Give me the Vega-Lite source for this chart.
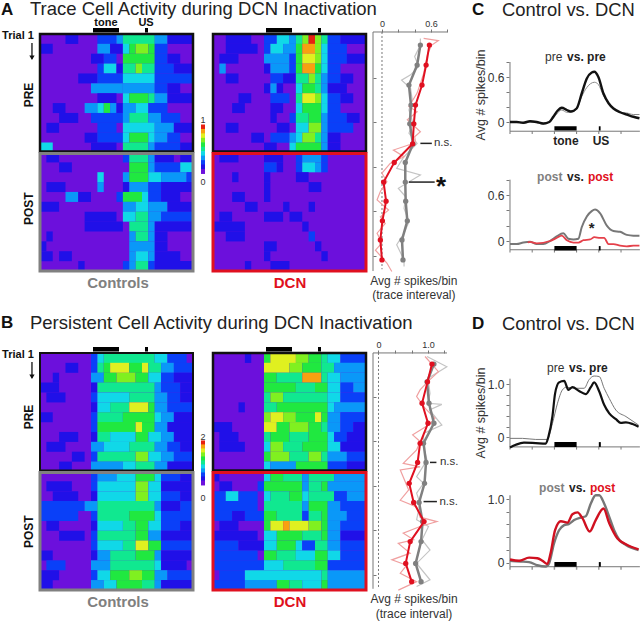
{"$schema":"https://vega.github.io/schema/vega-lite/v6.json","padding":0,"columns":4,"spacing":0,"bounds":"flush","background":"white",
"config":{"view":{"stroke":null},"text":{"font":"Liberation Sans"},"axis":{"labelFont":"Liberation Sans","grid":false,"domain":false,"title":null,"tickColor":"#777","labelColor":"#333"}},
"datasets":{
"a1":[{"r":1,"c":4,"d":6,"v":1},{"r":1,"c":9,"d":12,"v":2},{"r":1,"c":12,"d":13,"v":3},{"r":1,"c":13,"d":18,"v":5},{"r":1,"c":18,"d":20,"v":3},{"r":1,"c":20,"d":24,"v":1},
{"r":2,"c":0,"d":2,"v":1},{"r":2,"c":9,"d":11,"v":3},{"r":2,"c":11,"d":13,"v":1},{"r":2,"c":13,"d":14,"v":4},{"r":2,"c":14,"d":15,"v":6},{"r":2,"c":15,"d":17,"v":7},{"r":2,"c":17,"d":18,"v":6},{"r":2,"c":18,"d":20,"v":2},
{"r":3,"c":8,"d":10,"v":1},{"r":3,"c":10,"d":12,"v":2},{"r":3,"c":13,"d":18,"v":6},{"r":3,"c":18,"d":20,"v":2},{"r":3,"c":20,"d":22,"v":1},
{"r":4,"c":9,"d":10,"v":2},{"r":4,"c":10,"d":12,"v":4},{"r":4,"c":12,"d":13,"v":1},{"r":4,"c":13,"d":15,"v":5},{"r":4,"c":15,"d":16,"v":7},{"r":4,"c":16,"d":18,"v":5},{"r":4,"c":18,"d":21,"v":2},{"r":4,"c":21,"d":24,"v":1},
{"r":5,"c":6,"d":9,"v":1},{"r":5,"c":9,"d":13,"v":2},{"r":5,"c":13,"d":18,"v":4},{"r":5,"c":18,"d":24,"v":2},
{"r":6,"c":8,"d":13,"v":3},{"r":6,"c":13,"d":18,"v":3},{"r":6,"c":18,"d":20,"v":2},{"r":6,"c":20,"d":22,"v":1},
{"r":7,"c":9,"d":12,"v":1},{"r":7,"c":13,"d":14,"v":4},{"r":7,"c":14,"d":17,"v":6},{"r":7,"c":17,"d":18,"v":5},{"r":7,"c":18,"d":20,"v":3},{"r":7,"c":20,"d":24,"v":1},
{"r":8,"c":2,"d":4,"v":1},{"r":8,"c":7,"d":9,"v":3},{"r":8,"c":9,"d":10,"v":4},{"r":8,"c":10,"d":11,"v":6},{"r":8,"c":11,"d":12,"v":3},{"r":8,"c":12,"d":13,"v":1},{"r":8,"c":13,"d":15,"v":3},{"r":8,"c":15,"d":17,"v":4},{"r":8,"c":17,"d":20,"v":2},
{"r":9,"c":3,"d":6,"v":1},{"r":9,"c":8,"d":13,"v":2},{"r":9,"c":13,"d":14,"v":3},{"r":9,"c":14,"d":17,"v":5},{"r":9,"c":17,"d":19,"v":3},{"r":9,"c":19,"d":22,"v":2},
{"r":10,"c":1,"d":3,"v":1},{"r":10,"c":9,"d":12,"v":2},{"r":10,"c":13,"d":18,"v":4},{"r":10,"c":18,"d":21,"v":3},{"r":10,"c":21,"d":24,"v":1},
{"r":11,"c":7,"d":9,"v":1},{"r":11,"c":9,"d":13,"v":2},{"r":11,"c":13,"d":14,"v":4},{"r":11,"c":14,"d":17,"v":6},{"r":11,"c":17,"d":18,"v":4},{"r":11,"c":18,"d":20,"v":3},{"r":11,"c":20,"d":22,"v":2},
{"r":12,"c":0,"d":2,"v":4},{"r":12,"c":8,"d":12,"v":1},{"r":12,"c":13,"d":17,"v":5},{"r":12,"c":17,"d":18,"v":3},{"r":12,"c":18,"d":22,"v":2},{"r":12,"c":22,"d":24,"v":1},
{"r":13,"c":1,"d":3,"v":1},{"r":13,"c":13,"d":14,"v":2},{"r":13,"c":14,"d":17,"v":5},{"r":13,"c":17,"d":18,"v":3},{"r":13,"c":18,"d":21,"v":1},{"r":13,"c":22,"d":24,"v":1},
{"r":14,"c":3,"d":5,"v":1},{"r":14,"c":14,"d":17,"v":6},{"r":14,"c":17,"d":18,"v":3},{"r":14,"c":18,"d":22,"v":2},{"r":14,"c":22,"d":24,"v":4},
{"r":15,"c":9,"d":10,"v":4},{"r":15,"c":13,"d":14,"v":3},{"r":15,"c":14,"d":17,"v":6},{"r":15,"c":17,"d":19,"v":4},{"r":15,"c":19,"d":23,"v":3},{"r":15,"c":23,"d":24,"v":2},
{"r":16,"c":1,"d":4,"v":1},{"r":16,"c":9,"d":10,"v":3},{"r":16,"c":13,"d":14,"v":1},{"r":16,"c":14,"d":17,"v":3},{"r":16,"c":17,"d":19,"v":2},{"r":16,"c":19,"d":24,"v":1},
{"r":17,"c":4,"d":6,"v":3},{"r":17,"c":6,"d":8,"v":1},{"r":17,"c":12,"d":13,"v":2},{"r":17,"c":13,"d":16,"v":6},{"r":17,"c":16,"d":17,"v":4},{"r":17,"c":17,"d":19,"v":2},{"r":17,"c":19,"d":22,"v":1},
{"r":18,"c":0,"d":3,"v":1},{"r":18,"c":13,"d":15,"v":3},{"r":18,"c":15,"d":17,"v":4},{"r":18,"c":17,"d":20,"v":3},{"r":18,"c":20,"d":24,"v":1},
{"r":19,"c":7,"d":12,"v":1},{"r":19,"c":13,"d":15,"v":4},{"r":19,"c":15,"d":17,"v":5},{"r":19,"c":17,"d":19,"v":3},{"r":19,"c":19,"d":24,"v":2},
{"r":20,"c":7,"d":13,"v":1},{"r":20,"c":14,"d":17,"v":5},{"r":20,"c":17,"d":18,"v":3},{"r":20,"c":18,"d":24,"v":1},
{"r":21,"c":1,"d":2,"v":1},{"r":21,"c":14,"d":15,"v":3},{"r":21,"c":15,"d":17,"v":5},{"r":21,"c":17,"d":18,"v":3},{"r":21,"c":18,"d":20,"v":1},
{"r":22,"c":0,"d":1,"v":1},{"r":22,"c":14,"d":18,"v":3},{"r":22,"c":18,"d":20,"v":1},
{"r":23,"c":0,"d":2,"v":1},{"r":23,"c":3,"d":5,"v":1},{"r":23,"c":14,"d":15,"v":3},{"r":23,"c":15,"d":17,"v":4},{"r":23,"c":17,"d":18,"v":3},{"r":23,"c":18,"d":22,"v":1},
{"r":24,"c":6,"d":7,"v":1},{"r":24,"c":13,"d":14,"v":2},{"r":24,"c":14,"d":15,"v":3},{"r":24,"c":15,"d":17,"v":5},{"r":24,"c":17,"d":18,"v":2},{"r":24,"c":18,"d":24,"v":1}],
"a2":[{"r":1,"c":2,"d":6,"v":1},{"r":1,"c":8,"d":10,"v":2},{"r":1,"c":10,"d":12,"v":4},{"r":1,"c":12,"d":13,"v":3},{"r":1,"c":13,"d":14,"v":5},{"r":1,"c":14,"d":15,"v":7},{"r":1,"c":15,"d":16,"v":10},{"r":1,"c":16,"d":17,"v":7},{"r":1,"c":17,"d":18,"v":5},{"r":1,"c":18,"d":20,"v":2},{"r":1,"c":20,"d":24,"v":1},
{"r":2,"c":2,"d":7,"v":1},{"r":2,"c":8,"d":9,"v":2},{"r":2,"c":9,"d":11,"v":4},{"r":2,"c":11,"d":13,"v":3},{"r":2,"c":13,"d":14,"v":6},{"r":2,"c":14,"d":16,"v":9},{"r":2,"c":16,"d":17,"v":7},{"r":2,"c":17,"d":18,"v":4},{"r":2,"c":18,"d":21,"v":2},
{"r":3,"c":1,"d":4,"v":1},{"r":3,"c":8,"d":12,"v":3},{"r":3,"c":12,"d":13,"v":2},{"r":3,"c":13,"d":14,"v":6},{"r":3,"c":14,"d":16,"v":8},{"r":3,"c":16,"d":17,"v":7},{"r":3,"c":17,"d":18,"v":4},{"r":3,"c":18,"d":21,"v":2},{"r":3,"c":21,"d":24,"v":1},
{"r":4,"c":1,"d":2,"v":3},{"r":4,"c":8,"d":9,"v":1},{"r":4,"c":9,"d":12,"v":3},{"r":4,"c":12,"d":13,"v":2},{"r":4,"c":13,"d":14,"v":6},{"r":4,"c":14,"d":16,"v":9},{"r":4,"c":16,"d":17,"v":6},{"r":4,"c":17,"d":18,"v":4},{"r":4,"c":18,"d":20,"v":2},
{"r":5,"c":2,"d":4,"v":1},{"r":5,"c":9,"d":11,"v":2},{"r":5,"c":11,"d":13,"v":1},{"r":5,"c":13,"d":15,"v":5},{"r":5,"c":15,"d":16,"v":7},{"r":5,"c":16,"d":17,"v":5},{"r":5,"c":17,"d":18,"v":3},{"r":5,"c":18,"d":20,"v":2},{"r":5,"c":20,"d":22,"v":1},
{"r":6,"c":8,"d":9,"v":1},{"r":6,"c":9,"d":10,"v":3},{"r":6,"c":10,"d":11,"v":1},{"r":6,"c":13,"d":14,"v":4},{"r":6,"c":14,"d":16,"v":6},{"r":6,"c":16,"d":17,"v":5},{"r":6,"c":17,"d":18,"v":3},{"r":6,"c":18,"d":21,"v":1},
{"r":7,"c":4,"d":6,"v":1},{"r":7,"c":9,"d":12,"v":2},{"r":7,"c":13,"d":14,"v":5},{"r":7,"c":14,"d":16,"v":8},{"r":7,"c":16,"d":17,"v":7},{"r":7,"c":17,"d":18,"v":4},{"r":7,"c":18,"d":20,"v":2},{"r":7,"c":20,"d":22,"v":1},
{"r":8,"c":3,"d":5,"v":1},{"r":8,"c":9,"d":11,"v":1},{"r":8,"c":13,"d":14,"v":4},{"r":8,"c":14,"d":17,"v":6},{"r":8,"c":17,"d":18,"v":4},{"r":8,"c":18,"d":20,"v":2},
{"r":9,"c":9,"d":10,"v":1},{"r":9,"c":12,"d":13,"v":2},{"r":9,"c":13,"d":15,"v":5},{"r":9,"c":15,"d":17,"v":6},{"r":9,"c":17,"d":18,"v":3},{"r":9,"c":18,"d":21,"v":2},{"r":9,"c":21,"d":23,"v":1},
{"r":10,"c":2,"d":4,"v":1},{"r":10,"c":10,"d":12,"v":1},{"r":10,"c":13,"d":15,"v":4},{"r":10,"c":15,"d":17,"v":7},{"r":10,"c":17,"d":18,"v":3},{"r":10,"c":18,"d":22,"v":2},
{"r":11,"c":6,"d":8,"v":1},{"r":11,"c":9,"d":12,"v":2},{"r":11,"c":12,"d":13,"v":3},{"r":11,"c":13,"d":14,"v":4},{"r":11,"c":14,"d":16,"v":7},{"r":11,"c":16,"d":17,"v":5},{"r":11,"c":17,"d":18,"v":3},{"r":11,"c":18,"d":20,"v":1},
{"r":12,"c":8,"d":10,"v":1},{"r":12,"c":12,"d":13,"v":4},{"r":12,"c":13,"d":17,"v":6},{"r":12,"c":17,"d":18,"v":3},{"r":12,"c":18,"d":20,"v":1},
{"r":13,"c":1,"d":4,"v":1},{"r":13,"c":8,"d":11,"v":1},{"r":13,"c":13,"d":14,"v":2},{"r":13,"c":14,"d":17,"v":3},{"r":13,"c":17,"d":18,"v":2},
{"r":14,"c":8,"d":10,"v":2},{"r":14,"c":10,"d":11,"v":1},{"r":14,"c":13,"d":14,"v":2},{"r":14,"c":14,"d":16,"v":4},{"r":14,"c":16,"d":17,"v":3},{"r":14,"c":17,"d":18,"v":2},
{"r":15,"c":3,"d":4,"v":1},{"r":15,"c":8,"d":9,"v":1},{"r":15,"c":13,"d":15,"v":1},
{"r":16,"c":8,"d":9,"v":1},{"r":16,"c":15,"d":17,"v":1},
{"r":17,"c":3,"d":5,"v":1},{"r":17,"c":8,"d":9,"v":1},
{"r":18,"c":5,"d":7,"v":1},{"r":18,"c":11,"d":12,"v":1},{"r":18,"c":15,"d":16,"v":1},
{"r":19,"c":1,"d":3,"v":1},{"r":19,"c":8,"d":11,"v":1},{"r":19,"c":12,"d":14,"v":1},
{"r":20,"c":0,"d":5,"v":1},{"r":20,"c":14,"d":15,"v":1},
{"r":21,"c":2,"d":5,"v":1},{"r":21,"c":15,"d":16,"v":2},
{"r":22,"c":8,"d":10,"v":1},{"r":22,"c":16,"d":17,"v":1},
{"r":23,"c":8,"d":9,"v":1},{"r":23,"c":17,"d":18,"v":1},
{"r":24,"c":5,"d":6,"v":1},{"r":24,"c":9,"d":12,"v":1}],
"b1":[{"r":1,"c":8,"d":9,"v":2},{"r":1,"c":9,"d":10,"v":4},{"r":1,"c":10,"d":18,"v":5},{"r":1,"c":18,"d":20,"v":4},{"r":1,"c":20,"d":23,"v":2},
{"r":2,"c":4,"d":6,"v":1},{"r":2,"c":8,"d":9,"v":2},{"r":2,"c":9,"d":10,"v":5},{"r":2,"c":10,"d":11,"v":6},{"r":2,"c":11,"d":14,"v":8},{"r":2,"c":14,"d":16,"v":6},{"r":2,"c":16,"d":17,"v":8},{"r":2,"c":17,"d":19,"v":5},{"r":2,"c":19,"d":21,"v":3},{"r":2,"c":21,"d":24,"v":2},
{"r":3,"c":2,"d":3,"v":1},{"r":3,"c":8,"d":10,"v":3},{"r":3,"c":10,"d":12,"v":6},{"r":3,"c":12,"d":15,"v":7},{"r":3,"c":15,"d":17,"v":6},{"r":3,"c":17,"d":19,"v":4},{"r":3,"c":19,"d":21,"v":2},{"r":3,"c":21,"d":24,"v":1},
{"r":4,"c":0,"d":3,"v":1},{"r":4,"c":8,"d":9,"v":1},{"r":4,"c":9,"d":18,"v":5},{"r":4,"c":18,"d":19,"v":3},{"r":4,"c":19,"d":22,"v":2},{"r":4,"c":22,"d":24,"v":1},
{"r":5,"c":1,"d":4,"v":1},{"r":5,"c":8,"d":9,"v":2},{"r":5,"c":9,"d":14,"v":4},{"r":5,"c":14,"d":18,"v":5},{"r":5,"c":18,"d":20,"v":3},{"r":5,"c":20,"d":22,"v":2},{"r":5,"c":22,"d":24,"v":1},
{"r":6,"c":8,"d":9,"v":1},{"r":6,"c":9,"d":11,"v":4},{"r":6,"c":11,"d":14,"v":5},{"r":6,"c":14,"d":17,"v":8},{"r":6,"c":17,"d":18,"v":6},{"r":6,"c":18,"d":20,"v":3},{"r":6,"c":20,"d":24,"v":2},
{"r":7,"c":0,"d":2,"v":1},{"r":7,"c":8,"d":9,"v":2},{"r":7,"c":9,"d":13,"v":5},{"r":7,"c":13,"d":18,"v":6},{"r":7,"c":18,"d":19,"v":4},{"r":7,"c":19,"d":21,"v":3},{"r":7,"c":21,"d":24,"v":1},
{"r":8,"c":8,"d":9,"v":2},{"r":8,"c":9,"d":15,"v":6},{"r":8,"c":15,"d":16,"v":8},{"r":8,"c":16,"d":18,"v":6},{"r":8,"c":18,"d":20,"v":3},{"r":8,"c":20,"d":24,"v":1},
{"r":9,"c":3,"d":6,"v":1},{"r":9,"c":8,"d":9,"v":1},{"r":9,"c":9,"d":11,"v":5},{"r":9,"c":11,"d":15,"v":4},{"r":9,"c":15,"d":17,"v":6},{"r":9,"c":17,"d":19,"v":4},{"r":9,"c":19,"d":21,"v":3},{"r":9,"c":21,"d":24,"v":1},
{"r":10,"c":1,"d":4,"v":1},{"r":10,"c":8,"d":10,"v":3},{"r":10,"c":10,"d":14,"v":4},{"r":10,"c":14,"d":18,"v":5},{"r":10,"c":18,"d":20,"v":3},{"r":10,"c":20,"d":22,"v":2},{"r":10,"c":22,"d":24,"v":1},
{"r":11,"c":5,"d":7,"v":1},{"r":11,"c":8,"d":9,"v":2},{"r":11,"c":9,"d":15,"v":5},{"r":11,"c":15,"d":17,"v":7},{"r":11,"c":17,"d":19,"v":4},{"r":11,"c":19,"d":21,"v":3},{"r":11,"c":21,"d":24,"v":2},
{"r":12,"c":3,"d":5,"v":1},{"r":12,"c":8,"d":13,"v":3},{"r":12,"c":13,"d":15,"v":4},{"r":12,"c":15,"d":18,"v":5},{"r":12,"c":18,"d":20,"v":3},{"r":12,"c":20,"d":24,"v":1},
{"r":13,"c":8,"d":9,"v":2},{"r":13,"c":9,"d":12,"v":3},{"r":13,"c":12,"d":15,"v":4},{"r":13,"c":15,"d":18,"v":6},{"r":13,"c":18,"d":19,"v":4},{"r":13,"c":19,"d":22,"v":2},{"r":13,"c":22,"d":24,"v":1},
{"r":14,"c":1,"d":5,"v":1},{"r":14,"c":8,"d":9,"v":2},{"r":14,"c":9,"d":15,"v":4},{"r":14,"c":15,"d":17,"v":7},{"r":14,"c":17,"d":19,"v":4},{"r":14,"c":19,"d":24,"v":1},
{"r":15,"c":2,"d":6,"v":1},{"r":15,"c":8,"d":9,"v":1},{"r":15,"c":9,"d":15,"v":4},{"r":15,"c":15,"d":17,"v":7},{"r":15,"c":17,"d":19,"v":4},{"r":15,"c":19,"d":22,"v":2},{"r":15,"c":22,"d":24,"v":1},
{"r":16,"c":0,"d":7,"v":2},{"r":16,"c":7,"d":9,"v":3},{"r":16,"c":9,"d":18,"v":5},{"r":16,"c":18,"d":19,"v":3},{"r":16,"c":19,"d":22,"v":1},{"r":16,"c":22,"d":24,"v":2},
{"r":17,"c":0,"d":6,"v":2},{"r":17,"c":8,"d":9,"v":2},{"r":17,"c":9,"d":14,"v":5},{"r":17,"c":14,"d":18,"v":6},{"r":17,"c":18,"d":19,"v":4},{"r":17,"c":19,"d":24,"v":2},
{"r":18,"c":1,"d":3,"v":1},{"r":18,"c":8,"d":9,"v":1},{"r":18,"c":9,"d":13,"v":4},{"r":18,"c":13,"d":15,"v":5},{"r":18,"c":15,"d":17,"v":6},{"r":18,"c":17,"d":19,"v":4},{"r":18,"c":19,"d":22,"v":2},{"r":18,"c":22,"d":24,"v":1},
{"r":19,"c":3,"d":7,"v":1},{"r":19,"c":8,"d":9,"v":2},{"r":19,"c":9,"d":15,"v":5},{"r":19,"c":15,"d":17,"v":6},{"r":19,"c":17,"d":19,"v":3},{"r":19,"c":19,"d":24,"v":1},
{"r":20,"c":8,"d":9,"v":2},{"r":20,"c":9,"d":13,"v":4},{"r":20,"c":13,"d":15,"v":5},{"r":20,"c":15,"d":17,"v":8},{"r":20,"c":17,"d":19,"v":6},{"r":20,"c":19,"d":24,"v":2},
{"r":21,"c":0,"d":2,"v":1},{"r":21,"c":8,"d":9,"v":1},{"r":21,"c":9,"d":11,"v":3},{"r":21,"c":11,"d":15,"v":5},{"r":21,"c":15,"d":18,"v":6},{"r":21,"c":18,"d":19,"v":3},{"r":21,"c":19,"d":24,"v":1},
{"r":22,"c":1,"d":4,"v":2},{"r":22,"c":8,"d":11,"v":3},{"r":22,"c":11,"d":18,"v":5},{"r":22,"c":18,"d":19,"v":4},{"r":22,"c":19,"d":23,"v":1},
{"r":23,"c":0,"d":3,"v":1},{"r":23,"c":8,"d":9,"v":2},{"r":23,"c":9,"d":11,"v":4},{"r":23,"c":11,"d":14,"v":6},{"r":23,"c":14,"d":16,"v":7},{"r":23,"c":16,"d":18,"v":6},{"r":23,"c":18,"d":20,"v":3},{"r":23,"c":20,"d":24,"v":2},
{"r":24,"c":0,"d":2,"v":1},{"r":24,"c":8,"d":10,"v":3},{"r":24,"c":10,"d":12,"v":4},{"r":24,"c":12,"d":16,"v":6},{"r":24,"c":16,"d":18,"v":5},{"r":24,"c":18,"d":19,"v":3},{"r":24,"c":19,"d":24,"v":1}],
"b2":[{"r":1,"c":5,"d":6,"v":1},{"r":1,"c":8,"d":9,"v":6},{"r":1,"c":9,"d":13,"v":8},{"r":1,"c":13,"d":15,"v":7},{"r":1,"c":15,"d":17,"v":6},{"r":1,"c":17,"d":18,"v":5},{"r":1,"c":18,"d":20,"v":4},{"r":1,"c":20,"d":24,"v":2},
{"r":2,"c":8,"d":12,"v":8},{"r":2,"c":12,"d":14,"v":7},{"r":2,"c":14,"d":17,"v":6},{"r":2,"c":17,"d":19,"v":5},{"r":2,"c":19,"d":24,"v":3},
{"r":3,"c":8,"d":10,"v":6},{"r":3,"c":10,"d":14,"v":5},{"r":3,"c":14,"d":17,"v":9},{"r":3,"c":17,"d":18,"v":5},{"r":3,"c":18,"d":20,"v":4},{"r":3,"c":20,"d":24,"v":3},
{"r":4,"c":8,"d":13,"v":6},{"r":4,"c":13,"d":16,"v":5},{"r":4,"c":16,"d":18,"v":6},{"r":4,"c":18,"d":20,"v":4},{"r":4,"c":20,"d":22,"v":2},{"r":4,"c":22,"d":24,"v":3},
{"r":5,"c":8,"d":9,"v":5},{"r":5,"c":9,"d":11,"v":7},{"r":5,"c":11,"d":18,"v":5},{"r":5,"c":18,"d":20,"v":4},{"r":5,"c":20,"d":24,"v":2},
{"r":6,"c":4,"d":5,"v":1},{"r":6,"c":8,"d":10,"v":5},{"r":6,"c":10,"d":18,"v":6},{"r":6,"c":18,"d":19,"v":4},{"r":6,"c":19,"d":24,"v":3},
{"r":7,"c":8,"d":9,"v":7},{"r":7,"c":9,"d":11,"v":8},{"r":7,"c":11,"d":13,"v":7},{"r":7,"c":13,"d":16,"v":6},{"r":7,"c":16,"d":17,"v":8},{"r":7,"c":17,"d":18,"v":6},{"r":7,"c":18,"d":20,"v":3},{"r":7,"c":20,"d":24,"v":2},
{"r":8,"c":0,"d":3,"v":1},{"r":8,"c":8,"d":10,"v":8},{"r":8,"c":10,"d":12,"v":6},{"r":8,"c":12,"d":15,"v":7},{"r":8,"c":15,"d":17,"v":6},{"r":8,"c":17,"d":18,"v":5},{"r":8,"c":18,"d":20,"v":3},{"r":8,"c":20,"d":22,"v":2},{"r":8,"c":22,"d":24,"v":1},
{"r":9,"c":1,"d":4,"v":1},{"r":9,"c":8,"d":9,"v":5},{"r":9,"c":9,"d":12,"v":6},{"r":9,"c":12,"d":15,"v":5},{"r":9,"c":15,"d":18,"v":6},{"r":9,"c":18,"d":19,"v":4},{"r":9,"c":19,"d":21,"v":2},{"r":9,"c":21,"d":24,"v":1},
{"r":10,"c":1,"d":5,"v":1},{"r":10,"c":8,"d":9,"v":4},{"r":10,"c":9,"d":11,"v":7},{"r":10,"c":11,"d":14,"v":5},{"r":10,"c":14,"d":18,"v":6},{"r":10,"c":18,"d":20,"v":4},{"r":10,"c":20,"d":24,"v":1},
{"r":11,"c":8,"d":9,"v":6},{"r":11,"c":9,"d":12,"v":7},{"r":11,"c":12,"d":15,"v":5},{"r":11,"c":15,"d":17,"v":7},{"r":11,"c":17,"d":18,"v":5},{"r":11,"c":18,"d":21,"v":3},{"r":11,"c":21,"d":24,"v":2},
{"r":12,"c":8,"d":9,"v":4},{"r":12,"c":9,"d":13,"v":3},{"r":12,"c":13,"d":18,"v":6},{"r":12,"c":18,"d":21,"v":2},{"r":12,"c":21,"d":24,"v":1},
{"r":13,"c":0,"d":1,"v":1},{"r":13,"c":8,"d":9,"v":4},{"r":13,"c":9,"d":11,"v":6},{"r":13,"c":11,"d":14,"v":5},{"r":13,"c":14,"d":15,"v":3},{"r":13,"c":15,"d":19,"v":5},{"r":13,"c":19,"d":24,"v":3},
{"r":14,"c":1,"d":3,"v":1},{"r":14,"c":7,"d":8,"v":2},{"r":14,"c":8,"d":14,"v":6},{"r":14,"c":14,"d":15,"v":3},{"r":14,"c":15,"d":17,"v":5},{"r":14,"c":17,"d":18,"v":6},{"r":14,"c":18,"d":24,"v":3},
{"r":15,"c":0,"d":2,"v":2},{"r":15,"c":2,"d":4,"v":4},{"r":15,"c":4,"d":7,"v":2},{"r":15,"c":8,"d":9,"v":4},{"r":15,"c":9,"d":12,"v":5},{"r":15,"c":12,"d":14,"v":6},{"r":15,"c":14,"d":15,"v":4},{"r":15,"c":15,"d":19,"v":5},{"r":15,"c":19,"d":21,"v":2},{"r":15,"c":21,"d":24,"v":3},
{"r":16,"c":0,"d":7,"v":2},{"r":16,"c":8,"d":14,"v":5},{"r":16,"c":14,"d":15,"v":3},{"r":16,"c":15,"d":18,"v":6},{"r":16,"c":18,"d":20,"v":3},{"r":16,"c":20,"d":24,"v":2},
{"r":17,"c":0,"d":3,"v":2},{"r":17,"c":3,"d":5,"v":1},{"r":17,"c":5,"d":8,"v":2},{"r":17,"c":8,"d":10,"v":6},{"r":17,"c":10,"d":14,"v":5},{"r":17,"c":14,"d":15,"v":2},{"r":17,"c":15,"d":17,"v":5},{"r":17,"c":17,"d":18,"v":6},{"r":17,"c":18,"d":21,"v":3},{"r":17,"c":21,"d":24,"v":2},
{"r":18,"c":1,"d":4,"v":1},{"r":18,"c":8,"d":9,"v":6},{"r":18,"c":9,"d":11,"v":8},{"r":18,"c":11,"d":12,"v":9},{"r":18,"c":12,"d":15,"v":8},{"r":18,"c":15,"d":17,"v":7},{"r":18,"c":17,"d":18,"v":6},{"r":18,"c":18,"d":20,"v":3},{"r":18,"c":20,"d":24,"v":2},
{"r":19,"c":0,"d":7,"v":1},{"r":19,"c":8,"d":10,"v":4},{"r":19,"c":10,"d":14,"v":6},{"r":19,"c":14,"d":17,"v":5},{"r":19,"c":17,"d":18,"v":6},{"r":19,"c":18,"d":20,"v":3},{"r":19,"c":20,"d":24,"v":1},
{"r":20,"c":0,"d":4,"v":2},{"r":20,"c":4,"d":8,"v":1},{"r":20,"c":8,"d":10,"v":4},{"r":20,"c":10,"d":13,"v":6},{"r":20,"c":13,"d":14,"v":4},{"r":20,"c":14,"d":16,"v":2},{"r":20,"c":16,"d":18,"v":5},{"r":20,"c":18,"d":20,"v":3},{"r":20,"c":20,"d":24,"v":2},
{"r":21,"c":0,"d":7,"v":2},{"r":21,"c":8,"d":10,"v":6},{"r":21,"c":10,"d":13,"v":5},{"r":21,"c":13,"d":16,"v":4},{"r":21,"c":16,"d":18,"v":6},{"r":21,"c":18,"d":20,"v":4},{"r":21,"c":20,"d":24,"v":2},
{"r":22,"c":0,"d":8,"v":2},{"r":22,"c":8,"d":11,"v":4},{"r":22,"c":11,"d":16,"v":5},{"r":22,"c":16,"d":18,"v":6},{"r":22,"c":18,"d":24,"v":2},
{"r":23,"c":1,"d":5,"v":2},{"r":23,"c":5,"d":17,"v":4},{"r":23,"c":17,"d":18,"v":5},{"r":23,"c":18,"d":24,"v":3},
{"r":24,"c":0,"d":5,"v":2},{"r":24,"c":5,"d":10,"v":3},{"r":24,"c":10,"d":12,"v":6},{"r":24,"c":12,"d":14,"v":5},{"r":24,"c":14,"d":17,"v":4},{"r":24,"c":17,"d":18,"v":6},{"r":24,"c":18,"d":24,"v":3}],
"aGray":[{"a":0.47,"b":2.6},{"a":0.43,"b":7.1},{"a":0.33,"b":11.6},{"a":0.355,"b":16.1},{"a":0.34,"b":20.3},{"a":0.38,"b":24.8},{"a":0.285,"b":29},{"a":0.285,"b":33.4},{"a":0.29,"b":37.7},{"a":0.31,"b":42.1},{"a":0.245,"b":46.4},{"a":0.257,"b":50.9}],
"aRed":[{"a":0.58,"b":2.6},{"a":0.54,"b":7.1},{"a":0.49,"b":11.6},{"a":0.41,"b":16.1},{"a":0.39,"b":20.3},{"a":0.375,"b":24.8},{"a":0.15,"b":29},{"a":0.02,"b":33.4},{"a":0.05,"b":37.7},{"a":0.005,"b":42.1},{"a":-0.02,"b":46.4},{"a":0,"b":50.9}],
"bGray":[{"a":1.12,"b":2.6},{"a":0.98,"b":6.6},{"a":1.02,"b":11.4},{"a":1.12,"b":15.9},{"a":0.91,"b":20.4},{"a":0.96,"b":24.7},{"a":0.93,"b":29.4},{"a":0.82,"b":33.7},{"a":0.89,"b":38},{"a":0.86,"b":42.5},{"a":0.75,"b":47.4},{"a":0.86,"b":51.5}],
"bRed":[{"a":1.08,"b":2.6},{"a":0.99,"b":6.6},{"a":0.88,"b":11.4},{"a":1,"b":15.9},{"a":0.84,"b":20.4},{"a":0.79,"b":24.7},{"a":0.62,"b":29.4},{"a":0.71,"b":33.7},{"a":0.92,"b":38},{"a":0.64,"b":42.5},{"a":0.55,"b":47.4},{"a":0.67,"b":51.5}]
},
"concat":[
{"width":213,"height":319,"encoding":{"x":{"field":"c","type":"quantitative","axis":null,"scale":{"domain":[-6.275,27.137],"nice":false,"zero":false}},"y":{"field":"r","type":"quantitative","axis":null,"scale":{"domain":[-2.943,29.361],"reverse":true,"nice":false,"zero":false}}},
"layer":[
{"data":{"values":[{"c":0,"d":24,"r":0.5,"s":24.5}]},"mark":{"type":"rect","fill":"#6c10dc"},"encoding":{"x2":{"field":"d"},"y2":{"field":"s"}}},
{"data":{"name":"a1"},"mark":{"type":"rect","height":10},"encoding":{"x2":{"field":"d"},"color":{"field":"v","type":"quantitative","legend":null,"scale":{"domain":[0,1,2,3,4,5,6,7,8,9,10],"range":["#6c10dc","#2010e8","#0a40f8","#0a98f8","#10d8e8","#10e890","#20e840","#80f020","#e0f020","#f8a010","#e82010"]}}}},
{"data":{"values":[{"c":0,"d":24,"r":0.5,"s":12.4}]},"mark":{"type":"rect","fill":null,"stroke":"#111","strokeWidth":2.5},"encoding":{"x2":{"field":"d"},"y2":{"field":"s"}}},
{"data":{"values":[{"c":0,"d":24,"r":12.6,"s":24.5}]},"mark":{"type":"rect","fill":null,"stroke":"#808080","strokeWidth":3},"encoding":{"x2":{"field":"d"},"y2":{"field":"s"}}},
{"data":{"values":[{"c":8.31,"d":12.39,"r":-0.11,"s":0.35},{"c":16.47,"d":16.94,"r":-0.11,"s":0.35}]},"mark":{"type":"rect","fill":"black"},"encoding":{"x2":{"field":"d"},"y2":{"field":"s"}}},
{"data":{"values":[{"c":25.25,"d":25.88,"r":9.92,"v":10},{"c":25.25,"d":25.88,"r":10.37,"v":9},{"c":25.25,"d":25.88,"r":10.82,"v":8},{"c":25.25,"d":25.88,"r":11.27,"v":7},{"c":25.25,"d":25.88,"r":11.72,"v":6},{"c":25.25,"d":25.88,"r":12.17,"v":5},{"c":25.25,"d":25.88,"r":12.62,"v":4},{"c":25.25,"d":25.88,"r":13.07,"v":3},{"c":25.25,"d":25.88,"r":13.52,"v":2},{"c":25.25,"d":25.88,"r":13.97,"v":1},{"c":25.25,"d":25.88,"r":14.42,"v":0}]},"mark":{"type":"rect","height":5},"encoding":{"x2":{"field":"d"},"color":{"field":"v","type":"quantitative","legend":null}}},
{"data":{"values":[{"c":-6.12,"r":-1.98,"t":"A"}]},"mark":{"type":"text","align":"left","fontWeight":"bold","fontSize":17,"color":"#111"},"encoding":{"text":{"field":"t"}}},
{"data":{"values":[{"c":-1.57,"r":-2.03,"t":"Trace Cell Activity during DCN Inactivation"}]},"mark":{"type":"text","align":"left","fontSize":18.5,"color":"#222"},"encoding":{"text":{"field":"t"}}},
{"data":{"values":[{"c":10.35,"r":-0.61,"t":"tone"},{"c":16.63,"r":-0.61,"t":"US"},{"c":-3.45,"r":0.7,"t":"Trial 1"}]},"mark":{"type":"text","fontWeight":"bold","fontSize":11,"color":"#111"},"encoding":{"text":{"field":"t"}}},
{"data":{"values":[{"c":-1.73,"r":6.68,"t":"PRE"},{"c":-1.73,"r":18.2,"t":"POST"}]},"mark":{"type":"text","fontWeight":"bold","fontSize":12,"angle":270,"color":"#111"},"encoding":{"text":{"field":"t"}}},
{"data":{"values":[{"c":12.23,"r":25.7,"t":"Controls"}]},"mark":{"type":"text","fontWeight":"bold","fontSize":15,"color":"#808080"},"encoding":{"text":{"field":"t"}}},
{"data":{"values":[{"c":25.57,"r":9.2,"t":"1"},{"c":25.57,"r":15.5,"t":"0"}]},"mark":{"type":"text","fontSize":9,"color":"#333"},"encoding":{"text":{"field":"t"}}},
{"data":{"values":[{"c":-1.26,"r":1.4,"s":3.0}]},"mark":{"type":"rule","color":"#111","strokeWidth":1.3},"encoding":{"y2":{"field":"s"}}},
{"data":{"values":[{"c":-1.26,"r":2.9}]},"mark":{"type":"point","shape":"triangle-down","filled":true,"size":28,"color":"#111","opacity":1},"encoding":{}}
]},
{"width":160,"height":319,"encoding":{"x":{"field":"c","type":"quantitative","axis":null,"scale":{"domain":[0,25.098],"nice":false,"zero":false}},"y":{"field":"r","type":"quantitative","axis":null,"scale":{"domain":[-2.943,29.361],"reverse":true,"nice":false,"zero":false}}},
"layer":[
{"data":{"values":[{"c":0,"d":24,"r":0.5,"s":24.5}]},"mark":{"type":"rect","fill":"#6c10dc"},"encoding":{"x2":{"field":"d"},"y2":{"field":"s"}}},
{"data":{"name":"a2"},"mark":{"type":"rect","height":10},"encoding":{"x2":{"field":"d"},"color":{"field":"v","type":"quantitative","legend":null,"scale":{"domain":[0,1,2,3,4,5,6,7,8,9,10],"range":["#6c10dc","#2010e8","#0a40f8","#0a98f8","#10d8e8","#10e890","#20e840","#80f020","#e0f020","#f8a010","#e82010"]}}}},
{"data":{"values":[{"c":0,"d":24,"r":0.5,"s":12.4}]},"mark":{"type":"rect","fill":null,"stroke":"#111","strokeWidth":2.5},"encoding":{"x2":{"field":"d"},"y2":{"field":"s"}}},
{"data":{"values":[{"c":0,"d":24,"r":12.6,"s":24.5}]},"mark":{"type":"rect","fill":null,"stroke":"#e01020","strokeWidth":3},"encoding":{"x2":{"field":"d"},"y2":{"field":"s"}}},
{"data":{"values":[{"c":8.31,"d":12.39,"r":-0.11,"s":0.35},{"c":16.47,"d":16.94,"r":-0.11,"s":0.35}]},"mark":{"type":"rect","fill":"black"},"encoding":{"x2":{"field":"d"},"y2":{"field":"s"}}},
{"data":{"values":[{"c":12.08,"r":25.7,"t":"DCN"}]},"mark":{"type":"text","fontWeight":"bold","fontSize":15,"color":"#e01020"},"encoding":{"text":{"field":"t"}}}
]},
{"width":136,"height":319,"encoding":{"x":{"field":"a","type":"quantitative","scale":{"domain":[-0.11,1.5546],"nice":false,"zero":false},"axis":{"orient":"top","offset":-32,"values":[0,0.2,0.4,0.6,0.8],"labelExpr":"datum.value==0?'0':datum.value==0.6?'0.6':''","tickSize":3,"labelFontSize":9,"labelPadding":1}},"y":{"field":"b","type":"quantitative","scale":{"domain":[-7.53,64.18],"reverse":true,"nice":false,"zero":false},"axis":{"values":[10,20,30,40,50],"labels":false,"tickSize":-3}}},
"layer":[
{"data":{"values":[{"a":-0.11,"b":-0.34,"b2":53.4}]},"mark":{"type":"rule","color":"#777"},"encoding":{"y2":{"field":"b2"}}},
{"data":{"values":[{"a":-0.11,"a2":0.8,"b":-0.34}]},"mark":{"type":"rule","color":"#777"},"encoding":{"x2":{"field":"a2"}}},
{"data":{"values":[{"a":0,"b":-0.34,"b2":53}]},"mark":{"type":"rule","color":"#777","strokeDash":[2,2]},"encoding":{"y2":{"field":"b2"}}},
{"data":{"values":[{"a":0.47,"b":1.1},{"a":0.47,"b":2.6},{"a":0.4,"b":5.2},{"a":0.45,"b":7.4},{"a":0.35,"b":9.3},{"a":0.24,"b":10.5},{"a":0.35,"b":12.3},{"a":0.37,"b":14.9},{"a":0.33,"b":17.2},{"a":0.38,"b":20.2},{"a":0.33,"b":22.4},{"a":0.43,"b":24.7},{"a":0.27,"b":27.7},{"a":0.18,"b":30.3},{"a":0.47,"b":31.8},{"a":0.2,"b":34.8},{"a":0.29,"b":36.7},{"a":0.27,"b":39.3},{"a":0.33,"b":42.3},{"a":0.27,"b":44.9},{"a":0.18,"b":47.5},{"a":0.27,"b":50.9},{"a":0.27,"b":52.4}]},"mark":{"type":"line","color":"#c4c4c4","strokeWidth":1.2},"encoding":{"order":{"field":"b"}}},
{"data":{"values":[{"a":0.51,"b":1.1},{"a":0.69,"b":1.6},{"a":0.61,"b":2.6},{"a":0.56,"b":4.5},{"a":0.53,"b":7.1},{"a":0.51,"b":9},{"a":0.47,"b":11.2},{"a":0.43,"b":13.4},{"a":0.33,"b":16.4},{"a":0.43,"b":17.6},{"a":0.31,"b":19.4},{"a":0.47,"b":22.1},{"a":0.4,"b":23.2},{"a":0.41,"b":24.3},{"a":0.37,"b":24.8},{"a":0.14,"b":26.2},{"a":0.27,"b":27.7},{"a":0.1,"b":29.2},{"a":0,"b":31.4},{"a":0.06,"b":33.3},{"a":-0.02,"b":35.5},{"a":-0.06,"b":37.4},{"a":0.08,"b":39.7},{"a":-0.02,"b":41.2},{"a":0.04,"b":42.7},{"a":-0.06,"b":44.9},{"a":0,"b":47.1},{"a":-0.08,"b":48.7},{"a":0.06,"b":51.6},{"a":0.12,"b":53.5}]},"mark":{"type":"line","color":"#f0a0a0","strokeWidth":1.2},"encoding":{"order":{"field":"b"}}},
{"data":{"name":"aGray"},"mark":{"type":"line","color":"#808080","strokeWidth":2.5},"encoding":{"order":{"field":"b"}}},
{"data":{"name":"aGray"},"mark":{"type":"point","filled":true,"color":"#808080","size":28,"opacity":1},"encoding":{}},
{"data":{"name":"aRed"},"mark":{"type":"line","color":"#e01020","strokeWidth":2},"encoding":{"order":{"field":"b"}}},
{"data":{"name":"aRed"},"mark":{"type":"point","filled":true,"color":"#e01020","size":28,"opacity":1},"encoding":{}},
{"data":{"values":[{"a":0.47,"a2":0.61,"b":24.7},{"a":0.33,"a2":0.645,"b":33.4}]},"mark":{"type":"rule","color":"#222","strokeWidth":1.5},"encoding":{"x2":{"field":"a2"}}},
{"data":{"values":[{"a":0.636,"b":24.6,"t":"n.s."}]},"mark":{"type":"text","align":"left","fontSize":11.5,"color":"#333"},"encoding":{"text":{"field":"t"}}},
{"data":{"values":[{"a":0.66,"b":34.5,"t":"*"}]},"mark":{"type":"text","align":"left","fontSize":26,"fontWeight":"bold","color":"#111"},"encoding":{"text":{"field":"t"}}},
{"data":{"values":[{"a":0.39,"b":55.6,"t":"Avg # spikes/bin"},{"a":0.39,"b":58.8,"t":"(trace intereval)"}]},"mark":{"type":"text","fontSize":12,"color":"#333"},"encoding":{"text":{"field":"t"}}}
]},
{"width":131,"height":319,"encoding":{"x":{"field":"t","type":"quantitative","axis":null,"scale":{"domain":[-0.045,5.855],"nice":false,"zero":false}}},
"resolve":{"scale":{"y":"independent"},"axis":{"y":"independent"}},
"layer":[
{"encoding":{"y":{"field":"v","type":"quantitative","scale":{"domain":[-2.627,1.627],"nice":false,"zero":false},"axis":{"values":[0,0.2,0.4,0.6,0.8],"labelExpr":"datum.value==0?'0':datum.value==0.6?'0.6':''","tickSize":3,"labelFontSize":12}}},
"layer":[
{"data":{"values":[{"t":0,"v":-0.123,"w":0.8},{"t":0,"v":-0.123,"w":-0.16},{"t":1,"v":-0.123,"w":-0.16},{"t":2,"v":-0.123,"w":-0.16},{"t":3,"v":-0.123,"w":-0.16},{"t":4,"v":-0.123,"w":-0.16},{"t":5,"v":-0.123,"w":-0.16}]},"mark":{"type":"rule","color":"#777"},"encoding":{"y2":{"field":"w"}}},
{"data":{"values":[{"t":0,"u":5.85,"v":-0.123}]},"mark":{"type":"rule","color":"#777"},"encoding":{"x2":{"field":"u"}}},
{"data":{"values":[{"t":2,"u":3,"v":-0.057,"w":-0.114},{"t":4,"u":4.08,"v":-0.057,"w":-0.114}]},"mark":{"type":"rect","fill":"black"},"encoding":{"x2":{"field":"u"},"y2":{"field":"w"}}},
{"data":{"values":[{"t":0,"v":0},{"t":0.3,"v":0},{"t":0.6,"v":-0.02},{"t":0.9,"v":0},{"t":1.2,"v":-0.01},{"t":1.5,"v":-0.03},{"t":1.77,"v":0},{"t":1.95,"v":0.05},{"t":2.14,"v":0.12},{"t":2.33,"v":0.16},{"t":2.56,"v":0.13},{"t":2.74,"v":0.13},{"t":3,"v":0.17},{"t":3.23,"v":0.34},{"t":3.46,"v":0.46},{"t":3.8,"v":0.53},{"t":3.98,"v":0.5},{"t":4.21,"v":0.35},{"t":4.44,"v":0.25},{"t":4.66,"v":0.18},{"t":4.96,"v":0.13},{"t":5.26,"v":0.12},{"t":5.56,"v":0.1},{"t":5.83,"v":0.1}]},"mark":{"type":"line","color":"#888","strokeWidth":1,"interpolate":"monotone"},"encoding":{}},
{"data":{"values":[{"t":0,"v":0},{"t":0.3,"v":0},{"t":0.6,"v":-0.01},{"t":0.9,"v":0.01},{"t":1.2,"v":0},{"t":1.5,"v":-0.02},{"t":1.77,"v":0},{"t":1.95,"v":0.07},{"t":2.14,"v":0.15},{"t":2.33,"v":0.19},{"t":2.56,"v":0.16},{"t":2.74,"v":0.14},{"t":3,"v":0.18},{"t":3.23,"v":0.38},{"t":3.46,"v":0.58},{"t":3.68,"v":0.66},{"t":3.8,"v":0.67},{"t":3.98,"v":0.6},{"t":4.21,"v":0.38},{"t":4.44,"v":0.25},{"t":4.66,"v":0.18},{"t":4.96,"v":0.13},{"t":5.26,"v":0.1},{"t":5.56,"v":0.07},{"t":5.83,"v":0.05}]},"mark":{"type":"line","color":"#111","strokeWidth":2.4,"interpolate":"monotone"},"encoding":{}},
{"data":{"values":[{"t":-1.71,"v":1.5,"x":"C"}]},"mark":{"type":"text","align":"left","fontWeight":"bold","fontSize":17,"color":"#111"},"encoding":{"text":{"field":"x"}}},
{"data":{"values":[{"t":-0.36,"v":1.5,"x":"Control vs. DCN"}]},"mark":{"type":"text","align":"left","fontSize":18.4,"color":"#222"},"encoding":{"text":{"field":"x"}}},
{"data":{"values":[{"t":1.58,"v":0.867,"x":"pre"}]},"mark":{"type":"text","align":"left","fontSize":12,"color":"#333"},"encoding":{"text":{"field":"x"}}},
{"data":{"values":[{"t":2.57,"v":0.867,"x":"vs. pre"}]},"mark":{"type":"text","align":"left","fontSize":12,"fontWeight":"bold","color":"#222"},"encoding":{"text":{"field":"x"}}},
{"data":{"values":[{"t":2.52,"v":-0.253,"x":"tone"},{"t":4.1,"v":-0.253,"x":"US"}]},"mark":{"type":"text","fontSize":12,"fontWeight":"bold","color":"#222"},"encoding":{"text":{"field":"x"}}},
{"data":{"values":[{"t":-1.3,"v":0.36,"x":"Avg # spikes/bin"}]},"mark":{"type":"text","fontSize":12.5,"angle":270,"color":"#333"},"encoding":{"text":{"field":"x"}}}
]},
{"encoding":{"y":{"field":"v","type":"quantitative","scale":{"domain":[-1.017,3.143],"nice":false,"zero":false},"axis":{"orient":"left","values":[0,0.2,0.4,0.6,0.8],"labelExpr":"datum.value==0?'0':datum.value==0.6?'0.6':''","tickSize":3,"labelFontSize":12}}},
"layer":[
{"data":{"values":[{"t":0,"v":-0.114,"w":0.8},{"t":0,"v":-0.114,"w":-0.15},{"t":1,"v":-0.114,"w":-0.15},{"t":2,"v":-0.114,"w":-0.15},{"t":3,"v":-0.114,"w":-0.15},{"t":4,"v":-0.114,"w":-0.15},{"t":5,"v":-0.114,"w":-0.15}]},"mark":{"type":"rule","color":"#777"},"encoding":{"y2":{"field":"w"}}},
{"data":{"values":[{"t":0,"u":5.85,"v":-0.114}]},"mark":{"type":"rule","color":"#777"},"encoding":{"x2":{"field":"u"}}},
{"data":{"values":[{"t":2,"u":3,"v":-0.066,"w":-0.123},{"t":4,"u":4.08,"v":-0.066,"w":-0.123}]},"mark":{"type":"rect","fill":"black"},"encoding":{"x2":{"field":"u"},"y2":{"field":"w"}}},
{"data":{"values":[{"t":0,"v":-0.04},{"t":0.3,"v":-0.04},{"t":0.6,"v":-0.02},{"t":0.9,"v":-0.01},{"t":1.2,"v":-0.04},{"t":1.5,"v":-0.04},{"t":1.8,"v":0},{"t":2.1,"v":0.06},{"t":2.4,"v":0.1},{"t":2.63,"v":0.03},{"t":2.86,"v":0.02},{"t":3.08,"v":0.03},{"t":3.23,"v":0.18},{"t":3.46,"v":0.32},{"t":3.68,"v":0.39},{"t":3.83,"v":0.41},{"t":4.06,"v":0.36},{"t":4.36,"v":0.2},{"t":4.66,"v":0.13},{"t":4.96,"v":0.12},{"t":5.26,"v":0.08},{"t":5.56,"v":0.07},{"t":5.83,"v":0.07}]},"mark":{"type":"line","color":"#777","strokeWidth":2,"interpolate":"monotone"},"encoding":{}},
{"data":{"values":[{"t":0.8,"v":-0.02},{"t":0.9,"v":-0.01},{"t":1.2,"v":-0.03},{"t":1.8,"v":0},{"t":2.1,"v":0.04},{"t":2.33,"v":0.07},{"t":2.56,"v":0.01},{"t":2.86,"v":-0.02},{"t":3.08,"v":-0.02},{"t":3.31,"v":0.01},{"t":3.61,"v":0.02},{"t":3.8,"v":0.05},{"t":4.06,"v":0.04},{"t":4.24,"v":0.04},{"t":4.44,"v":-0.04},{"t":4.66,"v":-0.04},{"t":4.96,"v":-0.06},{"t":5.26,"v":-0.07},{"t":5.56,"v":-0.06},{"t":5.83,"v":-0.06}]},"mark":{"type":"line","color":"#e5404a","strokeWidth":1.8,"interpolate":"monotone"},"encoding":{}},
{"data":{"values":[{"t":1.22,"v":0.835,"x":"post"}]},"mark":{"type":"text","align":"left","fontSize":12,"fontWeight":"bold","color":"#808080"},"encoding":{"text":{"field":"x"}}},
{"data":{"values":[{"t":2.57,"v":0.835,"x":"vs."}]},"mark":{"type":"text","align":"left","fontSize":12,"fontWeight":"bold","color":"#222"},"encoding":{"text":{"field":"x"}}},
{"data":{"values":[{"t":3.55,"v":0.17,"x":"*"}]},"mark":{"type":"text","align":"left","fontSize":15,"fontWeight":"bold","color":"#222"},"encoding":{"text":{"field":"x"}}},
{"data":{"values":[{"t":3.51,"v":0.835,"x":"post"}]},"mark":{"type":"text","align":"left","fontSize":12,"fontWeight":"bold","color":"#e01020"},"encoding":{"text":{"field":"x"}}}
]}
]},
{"width":213,"height":302,"encoding":{"x":{"field":"c","type":"quantitative","axis":null,"scale":{"domain":[-6.275,27.137],"nice":false,"zero":false}},"y":{"field":"r","type":"quantitative","axis":null,"scale":{"domain":[-2.943,27.639],"reverse":true,"nice":false,"zero":false}}},
"layer":[
{"data":{"values":[{"c":0,"d":24,"r":0.5,"s":24.5}]},"mark":{"type":"rect","fill":"#6c10dc"},"encoding":{"x2":{"field":"d"},"y2":{"field":"s"}}},
{"data":{"name":"b1"},"mark":{"type":"rect","height":10},"encoding":{"x2":{"field":"d"},"color":{"field":"v","type":"quantitative","legend":null,"scale":{"domain":[0,1,2,3,4,5,6,7,8,9,10],"range":["#6c10dc","#2010e8","#0a40f8","#0a98f8","#10d8e8","#10e890","#20e840","#80f020","#e0f020","#f8a010","#e82010"]}}}},
{"data":{"values":[{"c":0,"d":24,"r":0.5,"s":12.4}]},"mark":{"type":"rect","fill":null,"stroke":"#111","strokeWidth":2},"encoding":{"x2":{"field":"d"},"y2":{"field":"s"}}},
{"data":{"values":[{"c":0,"d":24,"r":12.6,"s":24.5}]},"mark":{"type":"rect","fill":null,"stroke":"#808080","strokeWidth":3},"encoding":{"x2":{"field":"d"},"y2":{"field":"s"}}},
{"data":{"values":[{"c":8.31,"d":12.39,"r":-0.11,"s":0.35},{"c":16.47,"d":16.94,"r":-0.11,"s":0.35}]},"mark":{"type":"rect","fill":"black"},"encoding":{"x2":{"field":"d"},"y2":{"field":"s"}}},
{"data":{"values":[{"c":25.25,"d":25.88,"r":9.61,"v":10},{"c":25.25,"d":25.88,"r":10.01,"v":9},{"c":25.25,"d":25.88,"r":10.42,"v":8},{"c":25.25,"d":25.88,"r":10.82,"v":7},{"c":25.25,"d":25.88,"r":11.23,"v":6},{"c":25.25,"d":25.88,"r":11.63,"v":5},{"c":25.25,"d":25.88,"r":12.04,"v":4},{"c":25.25,"d":25.88,"r":12.44,"v":3},{"c":25.25,"d":25.88,"r":12.85,"v":2},{"c":25.25,"d":25.88,"r":13.25,"v":1},{"c":25.25,"d":25.88,"r":13.66,"v":0}]},"mark":{"type":"rect","height":5},"encoding":{"x2":{"field":"d"},"color":{"field":"v","type":"quantitative","legend":null}}},
{"data":{"values":[{"c":-6.12,"r":-2.54,"t":"B"}]},"mark":{"type":"text","align":"left","fontWeight":"bold","fontSize":17,"color":"#111"},"encoding":{"text":{"field":"t"}}},
{"data":{"values":[{"c":-1.57,"r":-2.54,"t":"Persistent Cell Activity during DCN Inactivation"}]},"mark":{"type":"text","align":"left","fontSize":18.5,"color":"#222"},"encoding":{"text":{"field":"t"}}},
{"data":{"values":[{"c":-3.45,"r":0.7,"t":"Trial 1"}]},"mark":{"type":"text","fontWeight":"bold","fontSize":11,"color":"#111"},"encoding":{"text":{"field":"t"}}},
{"data":{"values":[{"c":-1.73,"r":6.98,"t":"PRE"},{"c":-1.73,"r":18.6,"t":"POST"}]},"mark":{"type":"text","fontWeight":"bold","fontSize":12,"angle":270,"color":"#111"},"encoding":{"text":{"field":"t"}}},
{"data":{"values":[{"c":12.23,"r":25.7,"t":"Controls"}]},"mark":{"type":"text","fontWeight":"bold","fontSize":15,"color":"#808080"},"encoding":{"text":{"field":"t"}}},
{"data":{"values":[{"c":25.57,"r":9,"t":"2"},{"c":25.57,"r":15.18,"t":"0"}]},"mark":{"type":"text","fontSize":9,"color":"#333"},"encoding":{"text":{"field":"t"}}},
{"data":{"values":[{"c":-1.26,"r":1.4,"s":3.0}]},"mark":{"type":"rule","color":"#111","strokeWidth":1.3},"encoding":{"y2":{"field":"s"}}},
{"data":{"values":[{"c":-1.26,"r":2.9}]},"mark":{"type":"point","shape":"triangle-down","filled":true,"size":28,"color":"#111","opacity":1},"encoding":{}}
]},
{"width":160,"height":302,"encoding":{"x":{"field":"c","type":"quantitative","axis":null,"scale":{"domain":[0,25.098],"nice":false,"zero":false}},"y":{"field":"r","type":"quantitative","axis":null,"scale":{"domain":[-2.943,27.639],"reverse":true,"nice":false,"zero":false}}},
"layer":[
{"data":{"values":[{"c":0,"d":24,"r":0.5,"s":24.5}]},"mark":{"type":"rect","fill":"#6c10dc"},"encoding":{"x2":{"field":"d"},"y2":{"field":"s"}}},
{"data":{"name":"b2"},"mark":{"type":"rect","height":10},"encoding":{"x2":{"field":"d"},"color":{"field":"v","type":"quantitative","legend":null,"scale":{"domain":[0,1,2,3,4,5,6,7,8,9,10],"range":["#6c10dc","#2010e8","#0a40f8","#0a98f8","#10d8e8","#10e890","#20e840","#80f020","#e0f020","#f8a010","#e82010"]}}}},
{"data":{"values":[{"c":0,"d":24,"r":0.5,"s":12.4}]},"mark":{"type":"rect","fill":null,"stroke":"#111","strokeWidth":2.5},"encoding":{"x2":{"field":"d"},"y2":{"field":"s"}}},
{"data":{"values":[{"c":0,"d":24,"r":12.6,"s":24.5}]},"mark":{"type":"rect","fill":null,"stroke":"#e01020","strokeWidth":3},"encoding":{"x2":{"field":"d"},"y2":{"field":"s"}}},
{"data":{"values":[{"c":8.31,"d":12.39,"r":-0.11,"s":0.35},{"c":16.47,"d":16.94,"r":-0.11,"s":0.35}]},"mark":{"type":"rect","fill":"black"},"encoding":{"x2":{"field":"d"},"y2":{"field":"s"}}},
{"data":{"values":[{"c":12.08,"r":25.7,"t":"DCN"}]},"mark":{"type":"text","fontWeight":"bold","fontSize":15,"color":"#e01020"},"encoding":{"text":{"field":"t"}}}
]},
{"width":136,"height":302,"encoding":{"x":{"field":"a","type":"quantitative","scale":{"domain":[-0.111,2.636],"nice":false,"zero":false},"axis":{"orient":"top","offset":-34,"values":[0,0.33,0.67,1,1.33],"labelExpr":"datum.value==0?'0':datum.value==1?'1.0':''","tickSize":3,"labelFontSize":9,"labelPadding":1}},"y":{"field":"b","type":"quantitative","scale":{"domain":[-7.53,60.34],"reverse":true,"nice":false,"zero":false},"axis":{"values":[10,20,30,40,50],"labels":false,"tickSize":-3}}},
"layer":[
{"data":{"values":[{"a":-0.111,"b":0.1,"b2":53.1}]},"mark":{"type":"rule","color":"#777"},"encoding":{"y2":{"field":"b2"}}},
{"data":{"values":[{"a":-0.111,"a2":1.384,"b":0.1}]},"mark":{"type":"rule","color":"#777"},"encoding":{"x2":{"field":"a2"}}},
{"data":{"values":[{"a":0,"b":0.1,"b2":53.1}]},"mark":{"type":"rule","color":"#777","strokeDash":[2,2]},"encoding":{"y2":{"field":"b2"}}},
{"data":{"values":[{"a":0.98,"b":0.9},{"a":1.38,"b":3.2},{"a":1,"b":5.8},{"a":1.04,"b":9.2},{"a":1,"b":11.4},{"a":1.28,"b":11.65},{"a":1.03,"b":12.9},{"a":1.28,"b":16.3},{"a":0.91,"b":18.2},{"a":0.91,"b":21.2},{"a":0.98,"b":24.2},{"a":0.77,"b":27.9},{"a":0.91,"b":29.4},{"a":0.77,"b":31.6},{"a":0.84,"b":33.9},{"a":0.77,"b":37.6},{"a":1.01,"b":39.1},{"a":0.88,"b":42.1},{"a":1.04,"b":44.4},{"a":0.77,"b":47.4},{"a":1.04,"b":51.1},{"a":0.77,"b":52.6}]},"mark":{"type":"line","color":"#c4c4c4","strokeWidth":1.2},"encoding":{"order":{"field":"b"}}},
{"data":{"values":[{"a":0.94,"b":0.9},{"a":1.21,"b":4.3},{"a":1,"b":6.5},{"a":0.84,"b":8.4},{"a":0.77,"b":9.9},{"a":0.94,"b":12.5},{"a":1.14,"b":14.8},{"a":1.01,"b":16.3},{"a":0.69,"b":18.5},{"a":0.84,"b":20},{"a":0.77,"b":21.9},{"a":0.5,"b":24.9},{"a":0.84,"b":25.7},{"a":0.44,"b":26.4},{"a":0.61,"b":30.9},{"a":0.44,"b":33.2},{"a":0.77,"b":34.7},{"a":0.84,"b":37},{"a":1.18,"b":38},{"a":0.84,"b":39.1},{"a":0.5,"b":40.6},{"a":0.71,"b":42.1},{"a":0.4,"b":42.9},{"a":0.64,"b":45.1},{"a":0.27,"b":46.6},{"a":0.57,"b":47.8},{"a":0.44,"b":49.6},{"a":0.77,"b":51.5},{"a":0.4,"b":53.4}]},"mark":{"type":"line","color":"#f0a0a0","strokeWidth":1.2},"encoding":{"order":{"field":"b"}}},
{"data":{"name":"bGray"},"mark":{"type":"line","color":"#808080","strokeWidth":2.5},"encoding":{"order":{"field":"b"}}},
{"data":{"name":"bGray"},"mark":{"type":"point","filled":true,"color":"#808080","size":28,"opacity":1},"encoding":{}},
{"data":{"name":"bRed"},"mark":{"type":"line","color":"#e01020","strokeWidth":2},"encoding":{"order":{"field":"b"}}},
{"data":{"name":"bRed"},"mark":{"type":"point","filled":true,"color":"#e01020","size":28,"opacity":1},"encoding":{}},
{"data":{"values":[{"a":1.04,"a2":1.17,"b":24.7},{"a":0.91,"a2":1.18,"b":33.5}]},"mark":{"type":"rule","color":"#222","strokeWidth":1.5},"encoding":{"x2":{"field":"a2"}}},
{"data":{"values":[{"a":1.24,"b":24.7,"t":"n.s."},{"a":1.23,"b":33.5,"t":"n.s."}]},"mark":{"type":"text","align":"left","fontSize":11.5,"color":"#333"},"encoding":{"text":{"field":"t"}}},
{"data":{"values":[{"a":0.717,"b":55.4,"t":"Avg # spikes/bin"},{"a":0.717,"b":58.8,"t":"(trace interval)"}]},"mark":{"type":"text","fontSize":12,"color":"#333"},"encoding":{"text":{"field":"t"}}}
]},
{"width":131,"height":302,"encoding":{"x":{"field":"t","type":"quantitative","axis":null,"scale":{"domain":[-0.045,5.855],"nice":false,"zero":false}}},
"resolve":{"scale":{"y":"independent"},"axis":{"y":"independent"}},
"layer":[
{"encoding":{"y":{"field":"v","type":"quantitative","scale":{"domain":[-3.447,2.22],"nice":false,"zero":false},"axis":{"values":[0,0.2,0.4,0.6,0.8,1],"labelExpr":"datum.value==0?'0':datum.value==1?'1.0':''","tickSize":3,"labelFontSize":12}}},
"layer":[
{"data":{"values":[{"t":0,"v":-0.18,"w":1.1},{"t":0,"v":-0.18,"w":-0.23},{"t":1,"v":-0.18,"w":-0.23},{"t":2,"v":-0.18,"w":-0.23},{"t":3,"v":-0.18,"w":-0.23},{"t":4,"v":-0.18,"w":-0.23},{"t":5,"v":-0.18,"w":-0.23}]},"mark":{"type":"rule","color":"#777"},"encoding":{"y2":{"field":"w"}}},
{"data":{"values":[{"t":0,"u":5.85,"v":-0.18}]},"mark":{"type":"rule","color":"#777"},"encoding":{"x2":{"field":"u"}}},
{"data":{"values":[{"t":2,"u":3,"v":-0.09,"w":-0.18},{"t":4,"u":4.09,"v":-0.09,"w":-0.18}]},"mark":{"type":"rect","fill":"black"},"encoding":{"x2":{"field":"u"},"y2":{"field":"w"}}},
{"data":{"values":[{"t":0,"v":-0.02},{"t":0.56,"v":-0.02},{"t":1.16,"v":-0.04},{"t":1.68,"v":-0.04},{"t":1.91,"v":0.26},{"t":2.14,"v":0.64},{"t":2.36,"v":0.89},{"t":2.54,"v":0.94},{"t":2.96,"v":0.92},{"t":3.34,"v":0.92},{"t":3.56,"v":1.08},{"t":3.79,"v":1.15},{"t":4.02,"v":1.14},{"t":4.24,"v":0.92},{"t":4.47,"v":0.73},{"t":4.77,"v":0.51},{"t":5.22,"v":0.39},{"t":5.79,"v":0.23}]},"mark":{"type":"line","color":"#777","strokeWidth":1,"interpolate":"monotone"},"encoding":{}},
{"data":{"values":[{"t":0,"v":-0.19},{"t":0.26,"v":-0.14},{"t":0.63,"v":-0.1},{"t":1.16,"v":-0.11},{"t":1.61,"v":-0.12},{"t":1.73,"v":0.01},{"t":1.91,"v":0.39},{"t":2.03,"v":0.82},{"t":2.21,"v":1.03},{"t":2.44,"v":1.06},{"t":2.63,"v":0.89},{"t":2.81,"v":0.94},{"t":3.11,"v":0.87},{"t":3.41,"v":0.81},{"t":3.64,"v":0.94},{"t":3.79,"v":1.03},{"t":4.02,"v":0.86},{"t":4.24,"v":0.61},{"t":4.47,"v":0.45},{"t":4.77,"v":0.34},{"t":4.99,"v":0.27},{"t":5.22,"v":0.28},{"t":5.52,"v":0.25},{"t":5.79,"v":0.2}]},"mark":{"type":"line","color":"#111","strokeWidth":2.2,"interpolate":"monotone"},"encoding":{}},
{"data":{"values":[{"t":-1.71,"v":2.126,"x":"D"}]},"mark":{"type":"text","align":"left","fontWeight":"bold","fontSize":17,"color":"#111"},"encoding":{"text":{"field":"x"}}},
{"data":{"values":[{"t":-0.36,"v":2.126,"x":"Control vs. DCN"}]},"mark":{"type":"text","align":"left","fontSize":18.4,"color":"#222"},"encoding":{"text":{"field":"x"}}},
{"data":{"values":[{"t":1.67,"v":1.3,"x":"pre"}]},"mark":{"type":"text","align":"left","fontSize":12,"color":"#333"},"encoding":{"text":{"field":"x"}}},
{"data":{"values":[{"t":2.66,"v":1.3,"x":"vs. pre"}]},"mark":{"type":"text","align":"left","fontSize":12,"fontWeight":"bold","color":"#222"},"encoding":{"text":{"field":"x"}}},
{"data":{"values":[{"t":-1.3,"v":0.456,"x":"Avg # spikes/bin"}]},"mark":{"type":"text","fontSize":12.5,"angle":270,"color":"#333"},"encoding":{"text":{"field":"x"}}}
]},
{"encoding":{"y":{"field":"v","type":"quantitative","scale":{"domain":[-0.915,3.826],"nice":false,"zero":false},"axis":{"orient":"left","values":[0,0.2,0.4,0.6,0.8,1],"labelExpr":"datum.value==0?'0':datum.value==1?'1.0':''","tickSize":3,"labelFontSize":12}}},
"layer":[
{"data":{"values":[{"t":0,"v":-0.063,"w":1.06},{"t":0,"v":-0.063,"w":-0.11},{"t":1,"v":-0.063,"w":-0.11},{"t":2,"v":-0.063,"w":-0.11},{"t":3,"v":-0.063,"w":-0.11},{"t":4,"v":-0.063,"w":-0.11},{"t":5,"v":-0.063,"w":-0.11}]},"mark":{"type":"rule","color":"#999","strokeWidth":1.5},"encoding":{"y2":{"field":"w"}}},
{"data":{"values":[{"t":0,"u":5.85,"v":-0.063}]},"mark":{"type":"rule","color":"#777"},"encoding":{"x2":{"field":"u"}}},
{"data":{"values":[{"t":2,"u":3,"v":0.01,"w":-0.063},{"t":4,"u":4.09,"v":0.01,"w":-0.063}]},"mark":{"type":"rect","fill":"black"},"encoding":{"x2":{"field":"u"},"y2":{"field":"w"}}},
{"data":{"values":[{"t":0,"v":0.03},{"t":0.48,"v":0.02},{"t":0.86,"v":0.01},{"t":1.23,"v":-0.04},{"t":1.61,"v":-0.06},{"t":1.76,"v":-0.01},{"t":1.98,"v":0.3},{"t":2.21,"v":0.51},{"t":2.44,"v":0.59},{"t":2.66,"v":0.61},{"t":2.89,"v":0.67},{"t":3.19,"v":0.71},{"t":3.41,"v":0.73},{"t":3.64,"v":0.93},{"t":3.86,"v":1.06},{"t":4.02,"v":1.06},{"t":4.24,"v":0.93},{"t":4.47,"v":0.72},{"t":4.69,"v":0.51},{"t":4.92,"v":0.36},{"t":5.22,"v":0.28},{"t":5.79,"v":0.2}]},"mark":{"type":"line","color":"#777","strokeWidth":2.4,"interpolate":"monotone"},"encoding":{}},
{"data":{"values":[{"t":0,"v":0.05},{"t":0.41,"v":0.03},{"t":0.86,"v":0.08},{"t":1.23,"v":0.07},{"t":1.46,"v":0.03},{"t":1.68,"v":-0.02},{"t":1.83,"v":0.15},{"t":2.03,"v":0.51},{"t":2.29,"v":0.65},{"t":2.59,"v":0.63},{"t":2.81,"v":0.76},{"t":3.04,"v":0.79},{"t":3.26,"v":0.7},{"t":3.59,"v":0.49},{"t":3.86,"v":0.67},{"t":4.21,"v":0.85},{"t":4.47,"v":0.62},{"t":4.84,"v":0.38},{"t":5.22,"v":0.29},{"t":5.79,"v":0.21}]},"mark":{"type":"line","color":"#d01020","strokeWidth":2.4,"interpolate":"monotone"},"encoding":{}},
{"data":{"values":[{"t":1.31,"v":1.173,"x":"post"}]},"mark":{"type":"text","align":"left","fontSize":12,"fontWeight":"bold","color":"#808080"},"encoding":{"text":{"field":"x"}}},
{"data":{"values":[{"t":2.66,"v":1.173,"x":"vs."}]},"mark":{"type":"text","align":"left","fontSize":12,"fontWeight":"bold","color":"#222"},"encoding":{"text":{"field":"x"}}},
{"data":{"values":[{"t":3.6,"v":1.173,"x":"post"}]},"mark":{"type":"text","align":"left","fontSize":12,"fontWeight":"bold","color":"#e01020"},"encoding":{"text":{"field":"x"}}}
]}
]}
]}
